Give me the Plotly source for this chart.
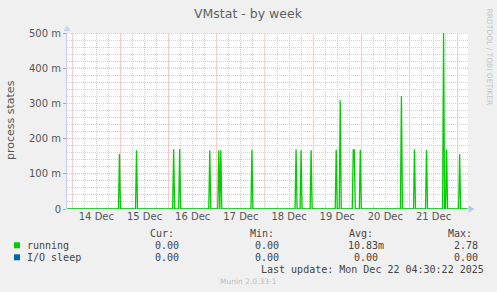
import plotly.graph_objects as go
import pandas as pd

# ---------------- data ----------------
title = "VMstat - by week"
y_title = "process states"
watermark = "RRDTOOL / TOBI OETIKER"
version_text = "Munin 2.0.33-1"
last_update = "Last update: Mon Dec 22 04:30:22 2025"

range_start = "2025-12-13 21:22"
range_end = "2025-12-22 05:10"
sample_start = "2025-12-13 21:30"
sample_end = "2025-12-22 05:00"

spike_times = [
    "2025-12-14 23:30", "2025-12-15 08:00", "2025-12-16 02:30", "2025-12-16 05:30",
    "2025-12-16 20:30", "2025-12-17 01:00", "2025-12-17 02:00", "2025-12-17 17:30",
    "2025-12-18 15:30", "2025-12-18 18:00", "2025-12-18 23:00", "2025-12-19 11:30",
    "2025-12-19 13:30", "2025-12-19 20:00", "2025-12-19 20:30", "2025-12-19 23:30",
    "2025-12-20 20:00", "2025-12-21 02:30", "2025-12-21 08:30", "2025-12-21 17:00",
    "2025-12-21 18:30", "2025-12-22 01:00",
]
spike_values = [
    0.156, 0.167, 0.170, 0.170,
    0.167, 0.167, 0.167, 0.168,
    0.170, 0.167, 0.167, 0.168,
    0.309, 0.168, 0.168, 0.168,
    0.321, 0.170, 0.168, 0.500,
    0.168, 0.156,
]

day_label_times = ["2025-12-14 12:00", "2025-12-15 12:00", "2025-12-16 12:00", "2025-12-17 12:00",
                   "2025-12-18 12:00", "2025-12-19 12:00", "2025-12-20 12:00", "2025-12-21 12:00"]
day_labels = ["14 Dec", "15 Dec", "16 Dec", "17 Dec", "18 Dec", "19 Dec", "20 Dec", "21 Dec"]
midnights = ["2025-12-14", "2025-12-15", "2025-12-16", "2025-12-17", "2025-12-18",
             "2025-12-19", "2025-12-20", "2025-12-21", "2025-12-22"]

y_tickvals = [0, 0.1, 0.2, 0.3, 0.4, 0.5]
y_ticktext = ["0", "100 m", "200 m", "300 m", "400 m", "500 m"]

series_names = ["running", "I/O sleep"]
series_colors = ["#00CC00", "#0066B3"]
stat_headers = ["Cur:", "Min:", "Avg:", "Max:"]
running_stats = ["0.00", "0.00", "10.83m", "2.78"]
iosleep_stats = ["0.00", "0.00", "0.00", "0.00"]

# ---------------- build series ----------------
times = pd.date_range(sample_start, sample_end, freq="30min")
running = pd.Series(0.0, index=times)
running.loc[pd.to_datetime(spike_times)] = spike_values
iosleep = pd.Series(0.0, index=times)

# ---------------- layout geometry (pixels) ----------------
W, H = 497, 292
L, R, T, B = 67, 468, 33, 209


def px(x):
    return (x - L) / (R - L)


def py(y):
    return (B - y) / (B - T)


FONT = "DejaVu Sans"
MONO = "DejaVu Sans Mono"
TXT = "#555555"
RED_V = "rgba(255,0,0,0.22)"
RED_H = "rgba(255,0,0,0.45)"
GRAY_GRID = "#d2d2d2"

fig = go.Figure()
fig.add_trace(go.Scatter(x=iosleep.index, y=iosleep.values, mode="lines",
                         line=dict(color="#7da2de", width=1.2), name=series_names[1],
                         hoverinfo="skip"))
fig.add_trace(go.Scatter(x=running.index, y=running.values, mode="lines",
                         line=dict(color=series_colors[0], width=1.3), name=series_names[0],
                         hoverinfo="skip"))

shapes = []
# major (red dotted) grid lines
for m in midnights:
    shapes.append(dict(type="line", xref="x", yref="paper", x0=m, x1=m, y0=0, y1=1,
                       line=dict(color=RED_V, width=1, dash="1px,1px"), layer="below"))
for v in y_tickvals[1:]:
    shapes.append(dict(type="line", xref="paper", yref="y", x0=0, x1=1, y0=v, y1=v,
                       line=dict(color=RED_H, width=1, dash="1px,1px"), layer="below"))
# axis arrows
shapes.append(dict(type="path", xref="paper", yref="paper",
                   path=f"M {px(63.5)},{py(31)} L {px(70.5)},{py(31)} L {px(67)},{py(25.5)} Z",
                   fillcolor="#c8cff5", line=dict(width=0), layer="above"))
shapes.append(dict(type="path", xref="paper", yref="paper",
                   path=f"M {px(468.5)},{py(205.5)} L {px(468.5)},{py(212.5)} L {px(474.5)},{py(209)} Z",
                   fillcolor="#aec3f0", line=dict(width=0), layer="above"))
# legend squares
for i, c in enumerate(series_colors):
    y0 = 242.3 + i * 12
    shapes.append(dict(type="rect", xref="paper", yref="paper",
                       x0=px(14), x1=px(20), y0=py(y0 + 6), y1=py(y0),
                       fillcolor=c, line=dict(width=0)))

ann = []


def add_text(text, x, y, xanchor="left", size=10, family=MONO, color="#444444", angle=0):
    ann.append(dict(text=text, xref="paper", yref="paper", x=px(x), y=py(y),
                    xanchor=xanchor, yanchor="middle", showarrow=False,
                    borderpad=0, borderwidth=0, textangle=angle,
                    font=dict(family=family, size=size, color=color)))


add_text(title, 248.5, 13, xanchor="center", size=12.5, family=FONT, color="#606060")
add_text(y_title, 11, 120, xanchor="center", size=11, family=FONT, color=TXT, angle=-90)
add_text(watermark, 489.5, 57, xanchor="center", size=7.5, family=FONT, color="#c4c4c4", angle=90)

header_left = [150, 249.5, 348.7, 447.7]
num_right = [179, 279.3, 378.3, 477.7]
for h, xl in zip(stat_headers, header_left):
    add_text(h, xl, 233.5)
for row, (name, stats) in enumerate(zip(series_names, [running_stats, iosleep_stats])):
    yrow = 245.5 + row * 11.7
    add_text(name, 27, yrow)
    for s, xr in zip(stats, num_right):
        unit = 6.0 if s[-1].isalpha() else 0.0
        add_text(s, xr + unit, yrow, xanchor="right")
add_text(last_update, 483.5, 269, xanchor="right")
add_text(version_text, 248.5, 281.5, xanchor="center", size=7.5, family=FONT, color="#bdbdbd")

fig.update_layout(
    width=W, height=H, autosize=False,
    margin=dict(l=L, r=W - R, t=T, b=H - B, pad=0),
    paper_bgcolor="#f0f0f0", plot_bgcolor="#ffffff",
    showlegend=False,
    shapes=shapes, annotations=ann,
    font=dict(family=FONT, size=10, color=TXT),
    xaxis=dict(
        type="date", range=[range_start, range_end],
        tickmode="array", tickvals=day_label_times, ticktext=day_labels,
        showgrid=False, zeroline=False, showline=False, ticks="",
        tickfont=dict(family=FONT, size=10, color=TXT),
        minor=dict(showgrid=True, dtick=6 * 3600 * 1000, tick0="2025-12-14",
                   gridcolor=GRAY_GRID, griddash="1px,1px", gridwidth=1),
        fixedrange=True,
    ),
    yaxis=dict(
        range=[0, 0.5], tickmode="array", tickvals=y_tickvals, ticktext=y_ticktext,
        showgrid=False, zeroline=False, showline=True, linecolor="#c8cff5", linewidth=1,
        ticks="outside", ticklen=3, tickcolor=RED_H,
        tickfont=dict(family=FONT, size=10, color=TXT),
        minor=dict(showgrid=True, dtick=0.02, tick0=0, gridcolor=GRAY_GRID,
                   griddash="1px,1px", gridwidth=1),
        fixedrange=True,
    ),
)

fig.write_html("out.html")
